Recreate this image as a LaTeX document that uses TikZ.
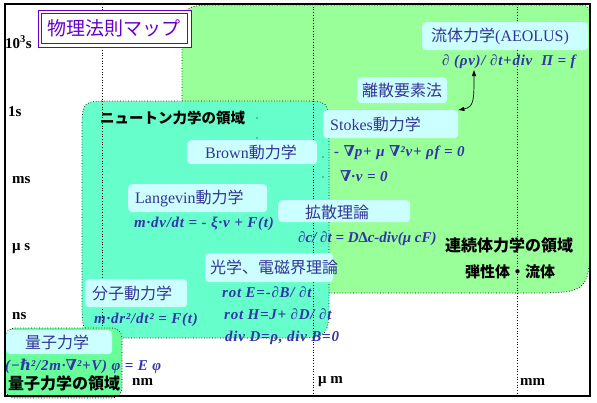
\documentclass[tikz,border=0pt]{standalone}
\usepackage{fontspec}
\setmainfont{Liberation Serif}
\newfontfamily\cjk{Noto Sans CJK JP}
\newfontfamily\dvs{DejaVu Serif}
\usetikzlibrary{arrows.meta}
\definecolor{lgreen}{HTML}{99FF99}
\definecolor{cyreg}{HTML}{66FFCC}
\definecolor{qreg}{HTML}{66FF99}
\definecolor{boxc}{HTML}{CCFFFF}
\definecolor{tblue}{HTML}{333399}
\definecolor{eqblue}{HTML}{3333AA}
\definecolor{tpurple}{HTML}{6600CC}
\begin{document}
\begin{tikzpicture}[x=1pt,y=-1pt,
  region/.style={draw=black, dotted, line width=0.7pt},
  bx/.style={fill=boxc, rounded corners=4pt, draw=none, inner sep=0pt, anchor=north west},
  bt/.style={text=tblue, font=\fontsize{16}{16}\selectfont, inner sep=0pt, anchor=west},
  eq/.style={text=eqblue, font=\fontsize{15}{15}\selectfont\bfseries\itshape\addfontfeature{LetterSpace=5}, inner sep=0pt, anchor=west},
  lab/.style={font=\fontsize{16}{16}\selectfont\cjk\bfseries, inner sep=0pt, anchor=west},
  ax/.style={font=\fontsize{15}{15}\selectfont\bfseries, inner sep=0pt, anchor=west},
  vline/.style={draw=black, dotted, line width=0.7pt},
  arr/.style={draw=black, line width=0.7pt, {Triangle[length=6pt,width=4pt]}-{Triangle[length=6pt,width=4pt]}}
]
\useasboundingbox (0,0) rectangle (597,402);
\fill[white] (0,0) rectangle (597,402);
% continuum region
\path[region, fill=lgreen] (182,293) -- (182,45) .. controls (182,5) .. (222,5) -- (572,5) .. controls (590,5) .. (590,23) -- (590,230) .. controls (590,293) .. (527,293) -- cycle;
% newton region
\path[region, fill=cyreg] (82,131) .. controls (82,101) .. (112,101) -- (299,101) .. controls (329,101) .. (329,131) -- (329,298) .. controls (329,338) .. (289,338) -- (122,338) .. controls (82,338) .. (82,298) -- cycle;
% grid lines
\coordinate (v1t) at (102,4); \coordinate (v1b) at (102,396);
\coordinate (v2t) at (313,4); \coordinate (v2b) at (313,396);
\coordinate (v3t) at (517,4); \coordinate (v3b) at (517,396);
\draw[vline] (v1t) -- (v1b);
\draw[vline] (v2t) -- (v2b);
\draw[vline] (v3t) -- (v3b);
% quantum region
\path[region, fill=qreg, rounded corners=10pt] (5,328) rectangle (122,398);
% small dots
\fill (257,118) circle (0.7);
\fill (257,138) circle (0.7);
\fill (323,157) circle (0.7);
\fill (323,177) circle (0.7);
% title
\draw[tpurple, line width=0.9pt, fill=white] (38,10) rectangle (191,47);
\draw[tpurple, line width=0.9pt] (41.5,13.5) rectangle (187.5,43.5);
\node[text=tpurple, font=\fontsize{19}{19}\selectfont\cjk, inner sep=0pt] (title) at (114,28.5) {物理法則マップ};
% boxes
\node[bx, minimum width=166pt, minimum height=28pt] (bAeolus) at (422,22) {};
\node[bx, minimum width=90pt, minimum height=26pt] (bDem) at (357,77) {};
\node[bx, minimum width=135pt, minimum height=28pt] (bStokes) at (323,110) {};
\node[bx, minimum width=130pt, minimum height=24pt] (bBrown) at (187,140) {};
\node[bx, minimum width=139pt, minimum height=28pt] (bLang) at (128,184) {};
\node[bx, minimum width=132pt, minimum height=22pt] (bDiff) at (278,200) {};
\node[bx, minimum width=128pt, minimum height=29pt] (bOpt) at (205,253) {};
\node[bx, minimum width=102pt, minimum height=28pt] (bMd) at (85,279) {};
\node[bx, minimum width=106pt, minimum height=24pt] (bQm) at (6,330) {};
% box texts
\node[bt] (tAeolus) at (431,36) {{\cjk 流体力学}(AEOLUS)};
\node[bt] (tDem) at (362,90) {\cjk 離散要素法};
\node[bt] (tStokes) at (330,124) {Stokes{\cjk 動力学}};
\node[bt] (tBrown) at (205,152) {Brown{\cjk 動力学}};
\node[bt] (tLang) at (135,198) {Langevin{\cjk 動力学}};
\node[bt] (tDiff) at (305,212) {\cjk 拡散理論};
\node[bt] (tOpt) at (210,267) {\cjk 光学、電磁界理論};
\node[bt] (tMd) at (92,293) {\cjk 分子動力学};
\node[bt] (tQm) at (25,342) {\cjk 量子力学};
% equations
\node[eq] (e1) at (442,62) {∂ (ρv)/ ∂t+div \ Π = f};
\node[eq] (e2) at (334,153) {- {\dvs ∇}p+ μ {\dvs ∇}²v+ ρf = 0};
\node[eq] (e3) at (340,176) {{\dvs ∇}·v = 0};
\node[eq] (e4) at (134,224) {m·dv/dt = - ξ·v + F(t)};
\node[eq, font=\fontsize{15}{15}\selectfont\bfseries\itshape] (e5) at (298,239) {∂c/ ∂t = D∆c-div(μ cF)};
\node[eq] (e6) at (222,292) {rot E=-∂B/ ∂t};
\node[eq] (e7) at (224,314) {rot H=J+ ∂D/ ∂t};
\node[eq] (e8) at (225,338) {div D=ρ, div B=0};
\node[eq] (e9) at (94,320) {m·dr²/dt² = F(t)};
\node[eq] (e10) at (5,366) {(−{\dvs ℏ}²/2m·{\dvs ∇}²+V) φ = E φ};
% arrow
\coordinate (aTop) at (474,70);
\draw[arr] (bStokes.north east) .. controls (474,107) and (474,100) .. (aTop);
% region labels
\node[lab, font=\fontsize{14.5}{14.5}\selectfont\cjk\bfseries] (lNewton) at (100,118) {ニュートン力学の領域};
\node[lab] (lCont) at (445,245) {連続体力学の領域};
\node[lab, font=\fontsize{15}{15}\selectfont\cjk\bfseries] (lElast) at (465,272) {弾性体・流体};
\node[lab] (lQm) at (8,383) {量子力学の領域};
% axis labels
\node[ax] (a1) at (5,42) {10\textsuperscript{3}s};
\node[ax] (a2) at (8,112) {1s};
\node[ax] (a3) at (12,180) {ms};
\node[ax] (a4) at (12,249) {μ s};
\node[ax] (a5) at (12,316) {ns};
\node[ax] (a6) at (132,382) {nm};
\node[ax] (a7) at (318,382) {μ m};
\node[ax] (a8) at (520,382) {mm};
% frame
\draw[black, line width=1.2pt] (5,4) rectangle (590,396);
\end{tikzpicture}
\end{document}
